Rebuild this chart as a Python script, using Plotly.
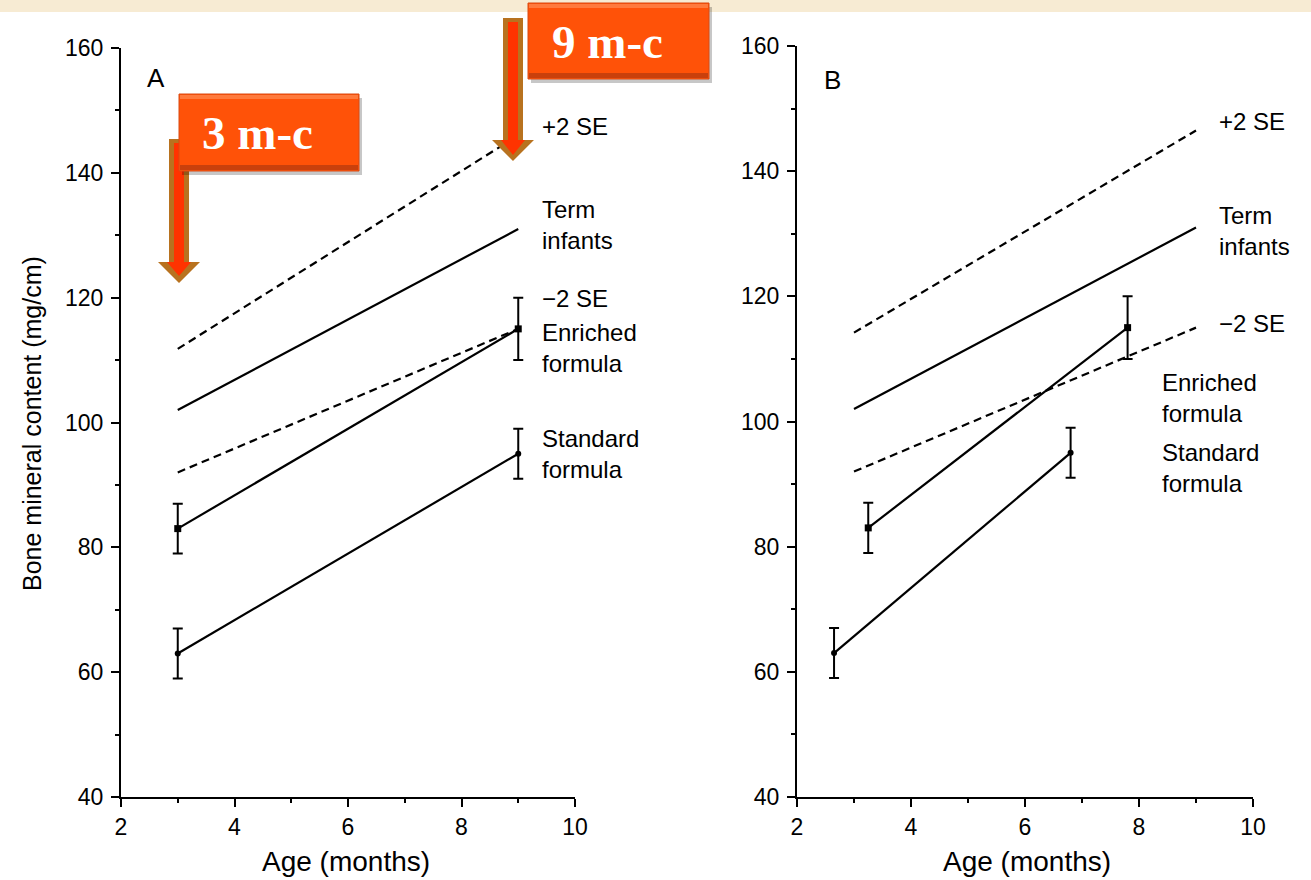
import plotly.graph_objects as go

W, H = 1311, 880

# ---------------- data ----------------
ref_age = [3, 9]
# Panel A
plus2se_a = [111.8, 146.0]
term_a = [102.0, 131.0]
minus2se_a = [92.0, 115.0]
enr_age_a = [3, 9]
enr_a = [83.0, 115.0]
enr_err_a = [4.0, 5.0]
std_age_a = [3, 9]
std_a = [63.0, 95.0]
std_err_a = [4.0, 4.0]
# Panel B
plus2se_b = [114.2, 146.5]
term_b = [102.0, 131.0]
minus2se_b = [92.0, 115.0]
enr_age_b = [3.25, 7.8]
enr_b = [83.0, 115.0]
enr_err_b = [4.0, 5.0]
std_age_b = [2.65, 6.8]
std_b = [63.0, 95.0]
std_err_b = [4.0, 4.0]

y_ticks = [40, 60, 80, 100, 120, 140, 160]
x_ticks = [2, 4, 6, 8, 10]


def px(x):
    return x / W


def py(y):
    return 1 - y / H


fig = go.Figure()

DASH = "8px,5px"
LW = 2.2


def add_panel(xa, ya, p2, term, m2, ea, ev, ee, sa, sv, se):
    common = dict(xaxis=xa, yaxis=ya, showlegend=False, hoverinfo="skip")
    fig.add_trace(go.Scatter(x=ref_age, y=p2, mode="lines",
                             line=dict(color="black", width=LW, dash=DASH), **common))
    fig.add_trace(go.Scatter(x=ref_age, y=term, mode="lines",
                             line=dict(color="black", width=LW), **common))
    fig.add_trace(go.Scatter(x=ref_age, y=m2, mode="lines",
                             line=dict(color="black", width=LW, dash=DASH), **common))
    fig.add_trace(go.Scatter(x=ea, y=ev, mode="lines+markers",
                             line=dict(color="black", width=LW),
                             marker=dict(symbol="square", size=7, color="black"),
                             error_y=dict(type="data", array=ee, color="black",
                                          thickness=2, width=5),
                             **common))
    fig.add_trace(go.Scatter(x=sa, y=sv, mode="lines+markers",
                             line=dict(color="black", width=LW),
                             marker=dict(symbol="circle", size=6, color="black"),
                             error_y=dict(type="data", array=se, color="black",
                                          thickness=2, width=5),
                             **common))


add_panel("x", "y", plus2se_a, term_a, minus2se_a, enr_age_a, enr_a, enr_err_a,
          std_age_a, std_a, std_err_a)
add_panel("x2", "y2", plus2se_b, term_b, minus2se_b, enr_age_b, enr_b, enr_err_b,
          std_age_b, std_b, std_err_b)

FAM = "Liberation Sans, Arial, Helvetica, sans-serif"
tickfont = dict(family=FAM, size=23, color="black")


def xaxis_cfg(dom, anchor):
    return dict(domain=dom, anchor=anchor, range=[2, 10], tickvals=x_ticks,
                ticks="outside", ticklen=8, tickwidth=2, tickcolor="black",
                showline=True, linewidth=2, linecolor="black", showgrid=False,
                zeroline=False, tickfont=tickfont, automargin=False,
                minor=dict(dtick=1, tick0=2, ticks="outside", ticklen=4,
                           tickwidth=2, tickcolor="black", showgrid=False))


def yaxis_cfg(dom, anchor):
    return dict(domain=dom, anchor=anchor, range=[40, 160], tickvals=y_ticks,
                ticks="outside", ticklen=8, tickwidth=2, tickcolor="black",
                showline=True, linewidth=2, linecolor="black", showgrid=False,
                zeroline=False, tickfont=tickfont, automargin=False,
                ticklabelstandoff=3,
                minor=dict(dtick=10, tick0=40, ticks="outside", ticklen=4,
                           tickwidth=2, tickcolor="black", showgrid=False))


fig.update_layout(
    width=W, height=H, autosize=False,
    margin=dict(l=0, r=0, t=0, b=0),
    paper_bgcolor="white", plot_bgcolor="white",
    xaxis=xaxis_cfg([px(121), px(575)], "y"),
    yaxis=yaxis_cfg([py(797), py(48)], "x"),
    xaxis2=xaxis_cfg([px(797), px(1253)], "y2"),
    yaxis2=yaxis_cfg([py(797), py(46)], "x2"),
)

lab_font = dict(family=FAM, size=24, color="black")
ann = []


def lab(text, x, y, xr, yr, anchor="left", font=lab_font):
    ann.append(dict(text=text, x=x, y=y, xref=xr, yref=yr, xanchor=anchor,
                    yanchor="middle", showarrow=False, font=font, align="left"))


# Panel A labels (y = vertical centre of the label block)
for t, yv in [("+2 SE", 147.5), ("Term<br>infants", 131.6),
              ("\u22122 SE", 119.8), ("Enriched<br>formula", 111.9),
              ("Standard<br>formula", 95.0)]:
    lab(t, 9.38, yv, "x", "y")
# Panel B labels
for t, xv, yv in [("+2 SE", 9.36, 147.9), ("Term<br>infants", 9.36, 130.5),
                  ("\u22122 SE", 9.36, 115.6), ("Enriched<br>formula", 8.37, 103.7),
                  ("Standard<br>formula", 8.37, 92.5)]:
    lab(t, xv, yv, "x2", "y2")

panel_font = dict(family=FAM, size=26, color="black")
lab("A", 2.62, 155.2, "x", "y", anchor="center", font=panel_font)
lab("B", 2.63, 154.6, "x2", "y2", anchor="center", font=panel_font)

title_font = dict(family=FAM, size=28, color="black")
ann.append(dict(text="Age (months)", x=px(346), y=py(861), xref="paper", yref="paper",
                xanchor="center", yanchor="middle", showarrow=False, font=title_font))
ann.append(dict(text="Age (months)", x=px(1027), y=py(861), xref="paper", yref="paper",
                xanchor="center", yanchor="middle", showarrow=False, font=title_font))
ann.append(dict(text="Bone mineral content (mg/cm)", x=px(32), y=py(424), xref="paper",
                yref="paper", xanchor="center", yanchor="middle", textangle=-90,
                showarrow=False, font=dict(family=FAM, size=25, color="black")))

# ---------------- decorative shapes ----------------
shapes = []


def rect(x0, y0, x1, y1, fill, line=None, lw=0, layer="above"):
    shapes.append(dict(type="rect", xref="paper", yref="paper",
                       x0=px(x0), x1=px(x1), y0=py(y1), y1=py(y0),
                       fillcolor=fill, line=dict(color=line or fill, width=lw),
                       layer=layer))


def poly(pts, fill):
    d = "M " + " L ".join(f"{px(x):.5f},{py(y):.5f}" for x, y in pts) + " Z"
    shapes.append(dict(type="path", xref="paper", yref="paper", path=d,
                       fillcolor=fill, line=dict(color=fill, width=0), layer="above"))


def arrow(cx, top, base, tip, sw, hw, isw, ihw, itip):
    poly([(cx - sw, top), (cx + sw, top), (cx + sw, base), (cx + hw, base),
          (cx, tip), (cx - hw, base), (cx - sw, base)], "#B8721F")
    poly([(cx - isw, top + 4), (cx + isw, top + 4), (cx + isw, base), (cx + ihw, base),
          (cx, itip), (cx - ihw, base), (cx - isw, base)], "#FF3300")


def box(x0, y0, x1, y1):
    rect(x0 + 3, y0 + 4, x1 + 3, y1 + 4, "rgba(0,0,0,0.22)")
    rect(x0, y0, x1, y1, "#FF5208", line="#D94A12", lw=1)
    rect(x0 + 1, y0 + 1, x1 - 1, y0 + 5, "#FF7A3C")
    rect(x0 + 1, y1 - 6, x1 - 1, y1 - 1, "#C9400C")


# beige band at top
rect(0, 0, W, 12, "#F7EBD3", layer="below")

arrow(179, 139, 262, 283, 10, 21, 5, 12, 276)
box(179, 94, 359, 171)
arrow(513, 18, 140, 161, 10, 21, 5, 12, 155)
box(528, 3, 709, 79)

box_font = dict(family="Liberation Serif, Times New Roman, serif", size=47, color="white")
ann.append(dict(text="<b>3 m-c</b>", x=px(257), y=py(133), xref="paper", yref="paper",
                xanchor="center", yanchor="middle", showarrow=False, font=box_font))
ann.append(dict(text="<b>9 m-c</b>", x=px(607), y=py(42), xref="paper", yref="paper",
                xanchor="center", yanchor="middle", showarrow=False, font=box_font))

fig.update_layout(annotations=ann, shapes=shapes)

fig.write_html("out.html", config={"displayModeBar": False},
               post_script="document.body.style.margin='0';document.body.style.overflow='hidden';")
